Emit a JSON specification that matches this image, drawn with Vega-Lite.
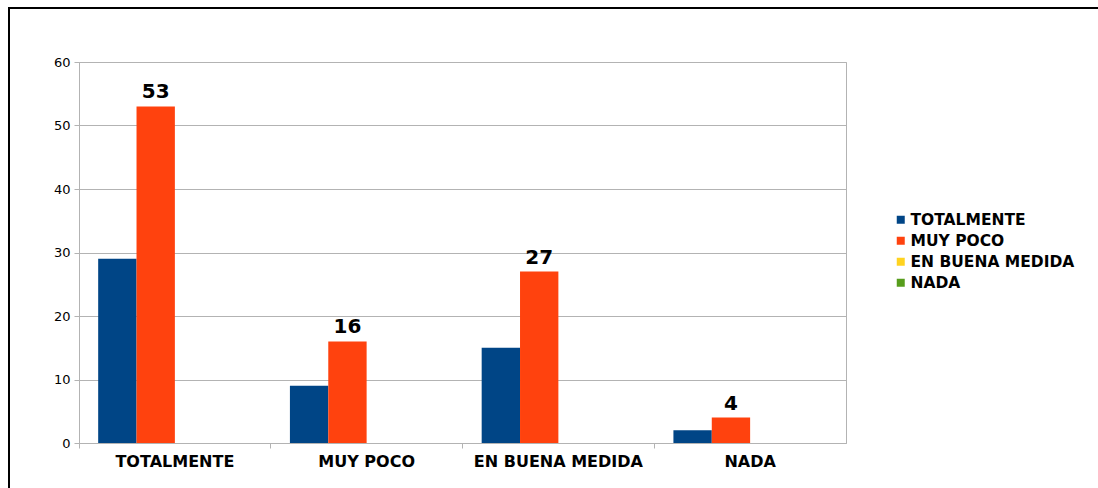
{
  "$schema": "https://vega.github.io/schema/vega-lite/v6.json",
  "width": 767,
  "height": 381,
  "autosize": "none",
  "padding": {"left": 79, "top": 62, "right": 252, "bottom": 45},
  "background": "white",
  "config": {
    "font": "DejaVu Sans",
    "view": {"stroke": "#b3b3b3", "strokeWidth": 1}
  },
  "data": {
    "values": [
      {"category": "TOTALMENTE", "series": "TOTALMENTE", "value": 29},
      {"category": "TOTALMENTE", "series": "MUY POCO", "value": 53},
      {"category": "TOTALMENTE", "series": "EN BUENA MEDIDA", "value": 0},
      {"category": "TOTALMENTE", "series": "NADA", "value": 0},
      {"category": "MUY POCO", "series": "TOTALMENTE", "value": 9},
      {"category": "MUY POCO", "series": "MUY POCO", "value": 16},
      {"category": "MUY POCO", "series": "EN BUENA MEDIDA", "value": 0},
      {"category": "MUY POCO", "series": "NADA", "value": 0},
      {"category": "EN BUENA MEDIDA", "series": "TOTALMENTE", "value": 15},
      {"category": "EN BUENA MEDIDA", "series": "MUY POCO", "value": 27},
      {"category": "EN BUENA MEDIDA", "series": "EN BUENA MEDIDA", "value": 0},
      {"category": "EN BUENA MEDIDA", "series": "NADA", "value": 0},
      {"category": "NADA", "series": "TOTALMENTE", "value": 2},
      {"category": "NADA", "series": "MUY POCO", "value": 4},
      {"category": "NADA", "series": "EN BUENA MEDIDA", "value": 0},
      {"category": "NADA", "series": "NADA", "value": 0}
    ]
  },
  "encoding": {
    "x": {
      "field": "category",
      "type": "nominal",
      "sort": ["TOTALMENTE", "MUY POCO", "EN BUENA MEDIDA", "NADA"],
      "scale": {"paddingInner": 0, "paddingOuter": 0},
      "title": null,
      "axis": {
        "labelAngle": 0,
        "labelFont": "DejaVu Sans",
        "labelFontSize": 16,
        "labelFontWeight": "bold",
        "labelColor": "black",
        "labelPadding": 5,
        "labelLimit": 300,
        "domainColor": "#b3b3b3",
        "ticks": true,
        "tickColor": "#b3b3b3",
        "tickSize": 5,
        "bandPosition": 0,
        "grid": false
      }
    },
    "xOffset": {
      "field": "series",
      "type": "nominal",
      "sort": ["TOTALMENTE", "MUY POCO", "EN BUENA MEDIDA", "NADA"],
      "scale": {"domain": ["TOTALMENTE", "MUY POCO", "EN BUENA MEDIDA", "NADA"], "paddingInner": 0, "paddingOuter": 0.5}
    },
    "y": {
      "field": "value",
      "type": "quantitative",
      "scale": {"domain": [0, 60], "nice": false},
      "title": null,
      "axis": {
        "values": [0, 10, 20, 30, 40, 50, 60],
        "labelFont": "DejaVu Sans",
        "labelFontSize": 13,
        "labelColor": "black",
        "labelPadding": 4,
        "domainColor": "#b3b3b3",
        "tickColor": "#b3b3b3",
        "tickSize": 5,
        "gridColor": "#b3b3b3",
        "grid": true
      }
    }
  },
  "layer": [
    {
      "mark": {"type": "bar"},
      "encoding": {
        "color": {
          "field": "series",
          "type": "nominal",
          "scale": {
            "domain": ["TOTALMENTE", "MUY POCO", "EN BUENA MEDIDA", "NADA"],
            "range": ["#004586", "#ff420e", "#ffd320", "#579d1c"]
          },
          "legend": {
            "orient": "none",
            "legendX": 814,
            "legendY": 150,
            "title": null,
            "symbolType": "square",
            "symbolSize": 64,
            "symbolStrokeWidth": 0,
            "labelFont": "DejaVu Sans",
            "labelFontSize": 15.5,
            "labelFontWeight": "bold",
            "labelColor": "black",
            "labelOffset": 2,
            "labelLimit": 300,
            "rowPadding": 4,
            "padding": 0
          }
        }
      }
    },
    {
      "transform": [{"filter": "datum.series === 'MUY POCO'"}],
      "mark": {"type": "text", "font": "DejaVu Sans", "fontSize": 20, "fontWeight": "bold", "color": "black", "baseline": "bottom", "dy": -4},
      "encoding": {
        "text": {"field": "value", "type": "quantitative"}
      }
    },
    {
      "mark": {"type": "point", "opacity": 0},
      "encoding": {
        "fill": {
          "field": "value",
          "type": "quantitative",
          "legend": {
            "orient": "none",
            "legendX": -70,
            "legendY": -54,
            "direction": "vertical",
            "gradientLength": 600,
            "gradientThickness": 1200,
            "gradientOpacity": 0,
            "gradientStrokeWidth": 0,
            "labelOpacity": 0,
            "labelExpr": "''",
            "title": null,
            "padding": 0,
            "strokeColor": "black",
            "encode": {"legend": {"update": {"strokeWidth": {"value": 2}}}}
          }
        }
      }
    }
  ]
}
